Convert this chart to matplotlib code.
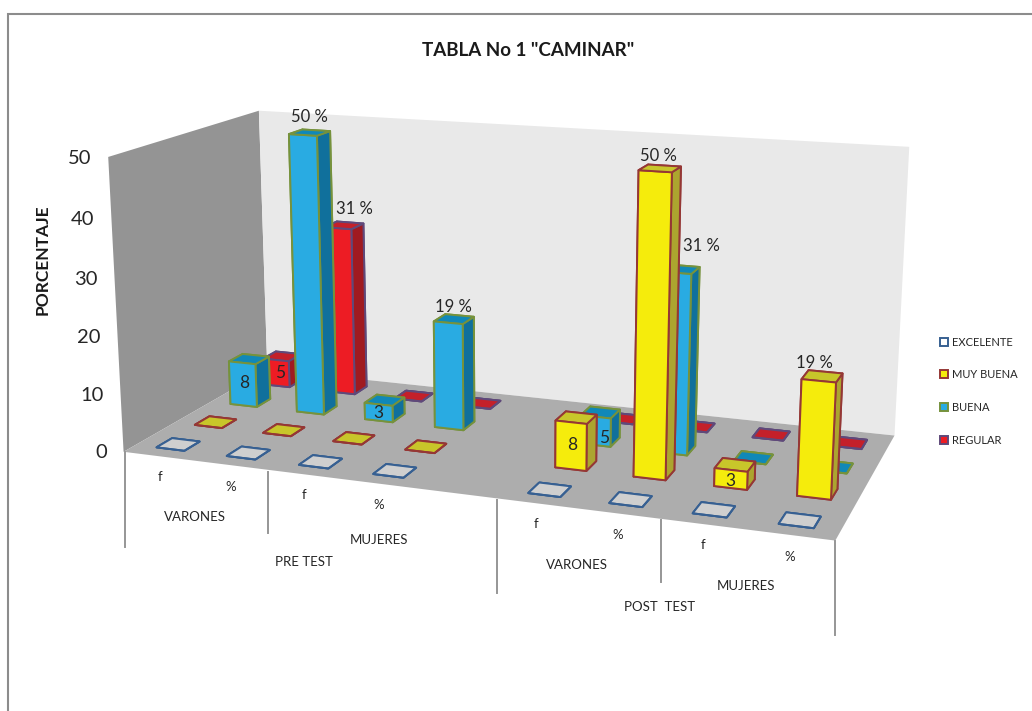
import numpy as np
import matplotlib
matplotlib.use('Agg')
import matplotlib.pyplot as plt
from matplotlib.lines import Line2D
from matplotlib.patches import Patch, Rectangle
from mpl_toolkits.mplot3d.art3d import Poly3DCollection
from mpl_toolkits.mplot3d import proj3d

plt.rcParams['font.family'] = ['Lato', 'DejaVu Sans']

# ---- data ----
TITLE = 'TABLA No 1 "CAMINAR"'
series = ['EXCELENTE', 'MUY BUENA', 'BUENA', 'REGULAR']
leaf_labels = ['f', '%', 'f', '%', '', 'f', '%', 'f', '%']
excelente = [0, 0, 0, 0, None, 0, 0, 0, 0]
muy_buena = [0, 0, 0, 0, None, 8, 50, 3, 19]
buena = [8, 50, 3, 19, None, 5, 31, 0, 0]
regular = [5, 31, 0, 0, None, 0, 0, 0, 0]
z_ticks = [0, 10, 20, 30, 40, 50]
# data labels: series index, category index, text
data_labels = [
    (2, 0, '8'), (2, 1, '50 %'), (2, 2, '3'), (2, 3, '19 %'), (2, 5, '5'), (2, 6, '31 %'),
    (3, 0, '5'), (3, 1, '31 %'),
    (1, 5, '8'), (1, 6, '50 %'), (1, 7, '3'), (1, 8, '19 %'),
]
# placement nudges of those labels (category units, value units)
label_nudge = [
    (0.02, 0.2), (0.5, 2.7), (0, 0), (0.5, 2.2), (0.11, -1.1), (0.77, 4.2),
    (0.06, 0), (0.66, 3.2),
    (0.01, 0.1), (0.48, 1.9), (0, -0.3), (0.4, 2.0),
]

# ---- styles ----
W, H = 1032, 711
style = {
    'EXCELENTE': dict(front='#cfcfcf', side='#cfcfcf', top='#cfcfcf', edge='#376092', swatch='#ffffff'),
    'MUY BUENA': dict(front='#f5ec0c', side='#aca52f', top='#c8c62a', edge='#953735', swatch='#f5ec0c'),
    'BUENA': dict(front='#29abe2', side='#10709c', top='#1088b8', edge='#76923c', swatch='#29abe2'),
    'REGULAR': dict(front='#ed1c24', side='#a01a20', top='#c4202a', edge='#5f497a', swatch='#ed1c24'),
}
BAR_FRAC = 0.4

# ---- camera fitted to the frame of the chart box: (x, y, z) -> pixel ----
n_cat, n_ser, z_max = len(leaf_labels), len(series), max(z_ticks)
camera_fit = [
    (0, 0, 0, 125, 452), (n_cat, 0, 0, 835, 541), (n_cat, n_ser, 0, 895, 435),
    (0, n_ser, 0, 266, 369.5), (0, n_ser, 50, 260, 111), (n_cat, n_ser, 50, 909, 147),
    (0, 0, 50, 108, 156), (0, 0, 40, 110.7, 218), (0, 0, 30, 114, 278),
    (0, 0, 20, 117.7, 337), (0, 0, 10, 120.7, 394),
]


def fit_camera(pts):
    rows = []
    for x, y, z, u, v in pts:
        X = [x / n_cat, y / n_ser, z / z_max, 1]
        u, v = u / 1000, v / 1000
        rows.append(X + [0, 0, 0, 0] + [-u * c for c in X])
        rows.append([0, 0, 0, 0] + X + [-v * c for c in X])
    p = np.linalg.svd(np.array(rows))[2][-1].reshape(3, 4)
    p = p @ np.diag([1 / n_cat, 1 / n_ser, 1 / z_max, 1])
    p = np.diag([1000, 1000, 1]) @ p
    centre = np.array([n_cat / 2, n_ser / 2, 0, 1])
    p = p / (p[2] @ centre)
    return np.vstack([p[0], p[1], [0, 0, 0, -1], p[2]])


M = fit_camera(camera_fit)

fig = plt.figure(figsize=(W / 100, H / 100), dpi=100, facecolor='white')


def px(x, y):
    return x / W, 1 - y / H


# chart area outline
fig.add_artist(Rectangle(px(8, 800), 1200 / W, (800 - 13.5) / H, transform=fig.transFigure,
                         fill=False, edgecolor='#8c8c8c', linewidth=1.5))

ax = fig.add_axes([0, 0, 1, 1], projection='3d')
ax.set_xticks([])
ax.set_yticks([])
ax.set_zticks([])
ax.set_axis_off()
ax.computed_zorder = False
ax.apply_aspect = lambda position=None: None
ax.get_proj = lambda: M
ax.patch.set_alpha(0)
ax._viewLim.intervalx = (0, W)
ax._viewLim.intervaly = (H, 0)


def label3d(x, y, z, s, **kw):
    u, v, _ = proj3d.proj_transform(x, y, z, M)
    return ax.text2D(float(u), float(v), s, transform=ax.transData, ha='center', va='center',
                     color='#262626', **kw)


# walls and floor
c = n_cat; s = n_ser; t = z_max
walls = [
    ([(0, 0, 0), (0, s, 0), (0, s, t), (0, 0, t)], '#949494'),
    ([(0, s, 0), (c, s, 0), (c, s, t), (0, s, t)], '#e9e9e9'),
    ([(0, 0, 0), (c, 0, 0), (c, s, 0), (0, s, 0)], '#adadad'),
]
for verts, col in walls:
    p = Poly3DCollection([verts], facecolor=col, edgecolor='none')
    p.set_zorder(1)
    ax.add_collection3d(p)
ax.plot([0, c, c], [0, 0, s], [0, 0, 0], color='#8a8a8a', lw=1.8, zorder=2)

# ticks
for z in z_ticks:
    ax.plot([-0.14, 0], [0, 0], [z, z], color='#8c8c8c', lw=1.2, zorder=2)
    lab = label3d(-0.24, 0, z - 0.5, str(z), fontsize=14.5, zorder=500)
    lab.set_ha('right')

# bars
rows = [excelente, muy_buena, buena, regular]
order = 10
for r in range(n_ser - 1, -1, -1):
    st = style[series[r]]
    for i, v in enumerate(rows[r]):
        if v is None:
            continue
        x0 = i + (1 - BAR_FRAC) / 2
        y0 = r + (1 - BAR_FRAC) / 2
        if v == 0:
            faces = [st['top']] * 6
        else:
            faces = [st['top'], st['top'], st['front'], st['front'], st['side'], st['side']]
        col = ax.bar3d(x0, y0, 0, BAR_FRAC, BAR_FRAC, v, color=faces, edgecolor=st['edge'],
                       linewidth=1.4, shade=False)
        col.set_zorder(order)
        order += 1

# data labels
for (r, i, lab), (dx, dz) in zip(data_labels, label_nudge):
    v = rows[r][i]
    if '%' in lab:
        label3d(i + dx, r + 0.5, v + dz, lab, fontsize=12, zorder=600)
    else:
        label3d(i + 0.5 + dx, r + (1 - BAR_FRAC) / 2, v / 2 + dz, lab, fontsize=12.5, zorder=600)

# multi-level category axis
tree_lines = [(125, 452, 547), (268, 472, 533), (497, 500, 593), (661, 520, 582), (835, 541, 635)]
for x, y0, y1 in tree_lines:
    fig.add_artist(Line2D([x / W, x / W], [1 - y0 / H, 1 - y1 / H], color='#969696', lw=1.4, zorder=3))

leaf_pos = [(160, 477), (231, 487), (304, 495), (379, 505), None, (536, 524), (618, 535), (703, 545), (790, 557)]
for lab, pos in zip(leaf_labels, leaf_pos):
    if pos:
        fig.text(*px(*pos), lab, ha='center', va='center', fontsize=9.5, color='#262626', zorder=5)
group_labels = ['VARONES', 'MUJERES', 'PRE TEST', 'VARONES', 'MUJERES', 'POST  TEST']
group_pos = [(195, 517), (379, 540), (304, 562), (577, 565), (746, 586), (660, 607)]
for lab, pos in zip(group_labels, group_pos):
    fig.text(*px(*pos), lab, ha='center', va='center', fontsize=9.5, color='#262626', zorder=5)

fig.text(*px(528, 50), TITLE, ha='center', va='center', fontsize=13.5, fontweight='bold', color='#1a1a1a', zorder=5)
fig.text(*px(43, 260), 'PORCENTAJE', ha='center', va='center', rotation=90, fontsize=12.5,
         fontweight='bold', color='#1a1a1a', zorder=5)

handles = [Patch(facecolor=style[k]['swatch'], edgecolor=style[k]['edge'], linewidth=1.4, label=k) for k in series]
fig.legend(handles=handles, loc='center left', bbox_to_anchor=px(940, 391), frameon=False,
           fontsize=8, handlelength=0.75, handleheight=0.75, handletextpad=0.3,
           labelspacing=1.95, borderpad=0, borderaxespad=0, labelcolor='#262626')

fig.savefig('out.png', dpi=100)
